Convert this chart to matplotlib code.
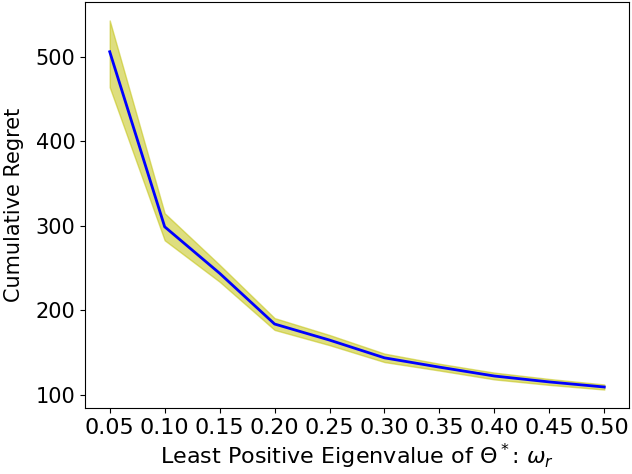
import matplotlib
matplotlib.use("Agg")
import matplotlib.pyplot as plt
import numpy as np

omega = [0.05, 0.10, 0.15, 0.20, 0.25, 0.30, 0.35, 0.40, 0.45, 0.50]
regret_mean = [506, 299, 244, 184, 165, 144, 133, 122.5, 115.5, 109.5]
regret_upper = [543, 315, 254, 191, 171, 149, 137, 126.5, 119, 112.5]
regret_lower = [464, 283, 234, 177, 159, 139, 129, 118.5, 112, 106.5]
xticks = [0.05, 0.10, 0.15, 0.20, 0.25, 0.30, 0.35, 0.40, 0.45, 0.50]

fig = plt.figure(figsize=(6.32, 4.74), dpi=100)
ax = fig.add_axes([85/632, 66/474, 544/632, 406/474])
ax.fill_between(omega, regret_lower, regret_upper, color='y', alpha=0.5)
ax.plot(omega, regret_mean, color='blue', linewidth=2)
ax.set_xticks(xticks)
ax.set_xticklabels([f"{t:.2f}" for t in xticks])
ax.set_yticks([100, 200, 300, 400, 500])
ax.tick_params(axis='x', labelsize=16)
ax.tick_params(axis='y', labelsize=15)
ax.set_xlabel(r"Least Positive Eigenvalue of $\Theta^*$: $\omega_r$", fontsize=16, labelpad=3)
ax.set_ylabel("Cumulative Regret", fontsize=15, labelpad=8)
fig.savefig("out.png", dpi=100)
